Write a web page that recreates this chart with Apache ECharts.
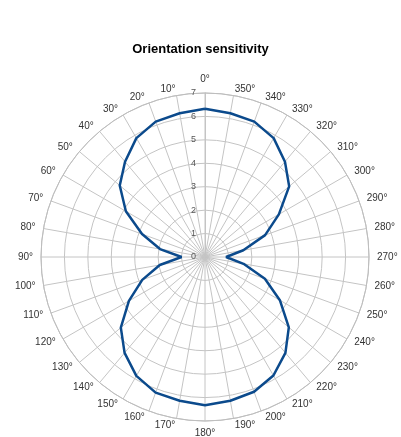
<!DOCTYPE html>
<html>
<head>
<meta charset="utf-8">
<script src="https://cdn.jsdelivr.net/npm/echarts@6/dist/echarts.min.js"></script>
<style>
  html, body { margin: 0; padding: 0; background: #fff; }
  #chart { width: 401px; height: 437px; }
</style>
</head>
<body>
<div id="chart"></div>
<script>
// orientation angle (deg) and sensitivity
var angles = [0, 10, 20, 30, 40, 50, 60, 70, 80, 90, 100, 110, 120, 130, 140, 150, 160, 170,
  180, 190, 200, 210, 220, 230, 240, 250, 260, 270, 280, 290, 300, 310, 320, 330, 340, 350, 360];
var sensitivity = [6.33, 6.23, 6.15, 5.86, 5.31, 4.75, 3.9, 2.86, 1.95, 1.0, 1.96, 2.85, 3.75, 4.69, 5.34, 5.86, 6.16, 6.23,
  6.33, 6.23, 6.12, 5.84, 5.34, 4.67, 3.69, 2.72, 1.67, 0.9, 1.66, 2.73, 3.64, 4.69, 5.31, 5.86, 6.15, 6.23, 6.33];

var pts = [];
for (var i = 0; i < angles.length; i++) {
  pts.push([sensitivity[i], angles[i]]);
}

// echarts centres labels near the vertical; push those to one side like the original
function angleLabel(v) {
  if (v === 360) return '';
  if (v === 0) return '{t|0°}';
  if (v === 180) return '{d|180°}';
  if (v === 10) return '{l1|10°}';
  if (v === 170) return '{l2|170°}';
  if (v === 350 || v === 190) return '{r2|' + v + '°}';
  return v + '°';
}

var chart = echarts.init(document.getElementById('chart'));
chart.setOption({
  animation: false,
  title: {
    text: 'Orientation sensitivity',
    left: 'center',
    top: 38,
    textStyle: { fontFamily: 'Liberation Sans', fontSize: 13, fontWeight: 'bold', color: '#000' }
  },
  polar: { center: [205, 257], radius: 164 },
  angleAxis: {
    type: 'value',
    min: 0,
    max: 360,
    interval: 10,
    startAngle: 90,
    clockwise: false,
    axisLine: { lineStyle: { color: '#bdbdbd', width: 1 } },
    axisTick: { show: false },
    axisLabel: {
      margin: 6,
      lineHeight: 1,
      padding: [0, 2, 0, 2],
      fontFamily: 'Liberation Sans',
      fontSize: 10,
      color: '#333',
      formatter: angleLabel,
      rich: {
        t: { lineHeight: 15 },
        d: { lineHeight: 12 },
        l1: { lineHeight: 1, padding: [0, 15, 0, 0] },
        l2: { lineHeight: 1, padding: [0, 21, 0, 0] },
        r2: { lineHeight: 1, padding: [0, 0, 0, 21] }
      }
    },
    splitLine: { show: true, lineStyle: { color: '#c4c4c4', width: 1 } }
  },
  radiusAxis: {
    type: 'value',
    min: 0,
    max: 7,
    interval: 1,
    axisLine: { show: true, lineStyle: { color: '#c4c4c4' } },
    axisTick: { show: false },
    axisLabel: { margin: 9, fontFamily: 'Liberation Sans', fontSize: 9, color: '#555' },
    splitLine: { show: true, lineStyle: { color: '#c4c4c4', width: 1 } }
  },
  series: [
    {
      type: 'line',
      coordinateSystem: 'polar',
      data: pts,
      showSymbol: false,
      symbol: 'none',
      lineStyle: { color: '#0b4a8c', width: 2.5 }
    }
  ]
});
</script>
</body>
</html>
